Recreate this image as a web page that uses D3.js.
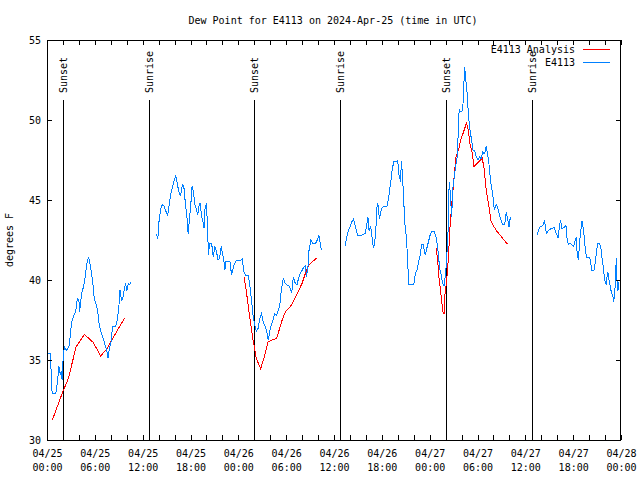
<!DOCTYPE html>
<html><head><meta charset="utf-8">
<script src="https://cdn.jsdelivr.net/npm/d3@7/dist/d3.min.js"></script>
<style>
body{margin:0;background:#fff}
text{font-family:"DejaVu Sans Mono","Liberation Mono",monospace;font-size:10px;fill:#000}
</style>
</head><body>
<svg id="c" width="640" height="480"></svg>
<script>
// ---- data (hours since 2024-04-25 00:00 UTC, dew point in degrees F) ----
const chartTitle = "Dew Point for E4113 on 2024-Apr-25 (time in UTC)";
const yLabel = "degrees F";
const seriesNames = ["E4113 Analysis", "E4113"];
const yTicks = [30, 35, 40, 45, 50, 55];
const xTickHours = [0, 6, 12, 18, 24, 30, 36, 42, 48, 54, 60, 66, 72];
const xTickDates = ["04/25","04/25","04/25","04/25","04/26","04/26","04/26","04/26","04/27","04/27","04/27","04/27","04/28"];
const xTickTimes = ["00:00","06:00","12:00","18:00","00:00","06:00","12:00","18:00","00:00","06:00","12:00","18:00","00:00"];
const sunHours = [1.95, 12.75, 26.0, 36.8, 50.0, 60.8];
const sunLabels = ["Sunset","Sunrise","Sunset","Sunrise","Sunset","Sunrise"];

// observations (null = gap)
const obsHours = [
 0,0.45,0.55,0.65,1.1,1.3,1.5,1.65,1.8,1.9,2.05,2.2,2.4,2.75,2.9,3.1,3.3,3.6,3.8,4.0,4.1,4.2,4.35,4.6,4.8,5.0,5.2,5.4,5.6,5.75,5.95,6.1,6.35,6.55,6.75,7.05,7.3,7.5,7.65,7.85,8.1,8.2,8.6,8.8,9.0,9.15,9.35,9.5,9.7,9.85,10.0,10.2,10.4,10.5,
 12,
 13.7,13.9,14.05,14.25,14.45,14.7,14.95,15.15,15.35,15.55,15.8,16.0,16.15,16.35,16.5,16.7,16.85,17.0,17.2,17.35,17.55,17.7,17.9,18.05,18.2,18.4,18.55,18.7,18.9,19.05,19.2,19.4,19.55,19.7,19.8,20.0,20.15,20.25,20.4,20.65,20.85,21.05,21.25,21.45,21.65,21.85,22.0,22.2,22.3,22.45,22.95,23.15,23.35,23.55,23.75,24.25,24.5,24.7,24.9,25.25,25.45,25.65,25.85,26.05,26.25,26.5,26.7,26.9,27.1,27.35,27.55,27.75,27.95,28.15,28.35,28.55,28.8,29.0,29.2,29.4,29.65,29.85,30.05,30.4,30.7,30.9,31.1,31.35,31.55,31.75,32.0,32.2,32.4,32.55,32.75,32.85,33.1,33.3,33.7,33.9,34.1,34.3,34.4,
 36,
 37.4,37.6,37.8,38.0,38.25,38.45,38.65,38.95,39.5,39.9,40.1,40.25,40.4,40.55,40.7,40.8,40.95,41.1,41.25,41.4,41.5,41.7,41.8,42.0,42.25,42.65,42.85,43.0,43.15,43.3,43.5,44.0,44.15,44.35,44.45,44.6,44.75,44.9,45.1,45.25,45.4,46.0,46.2,46.4,46.6,46.8,47.0,47.2,47.45,47.65,47.85,48.05,48.3,48.6,48.8,49.0,49.15,49.3,49.5,49.6,49.8,49.95,50.1,50.3,50.45,50.6,50.75,50.95,51.1,51.25,51.45,51.6,51.7,51.85,52.15,52.25,52.4,52.5,52.7,52.85,53.0,53.25,53.45,53.65,53.85,54.05,54.25,54.45,54.65,54.85,55.0,55.1,55.25,55.45,55.65,55.9,56.1,56.25,56.4,56.55,56.75,56.95,57.15,57.4,57.6,57.8,57.95,58.05,58.2,
 60,
 61.5,61.65,61.9,62.2,62.4,62.5,62.65,62.9,63.2,63.4,63.6,63.8,64.0,64.1,64.3,64.4,64.6,64.9,65.1,65.25,65.4,65.55,65.85,66.05,66.25,66.4,66.5,66.65,66.8,66.9,67.1,67.25,67.4,67.55,67.7,68.05,68.2,68.3,68.6,68.8,68.95,69.1,69.3,69.5,69.65,69.8,69.95,70.15,70.25,70.35,70.5,70.65,70.8,71.0,71.1,71.25,71.35,71.45,71.5,71.6,71.75
];
const obsDew = [
 35.4,35.4,33.6,32.9,32.9,33.6,34.6,34.1,34.3,33.75,35.4,35.8,35.6,35.8,36.45,37.4,37.7,38.0,38.85,38.75,38.0,38.55,39.2,39.6,40.2,41.05,41.45,41.0,40.4,39.8,38.75,38.6,38.1,37.2,36.8,36.35,35.9,35.6,35.1,35.8,36.25,37.1,37.1,37.5,38.2,39.4,38.75,38.85,39.4,39.8,39.3,39.8,39.7,39.9,
 null,
 42.9,42.55,43.65,44.4,44.7,44.6,44.25,44.05,44.8,45.4,45.9,46.3,46.5,46.0,45.6,45.3,45.5,46.0,45.7,44.8,43.95,42.9,43.95,44.8,45.9,45.4,44.7,44.5,44.05,44.6,44.8,43.95,43.65,43.25,44.4,44.8,43.1,41.55,42.3,42.3,41.45,42.1,41.8,41.25,41.35,42.1,41.7,41.15,40.6,41.15,41.15,40.3,40.75,41.05,41.2,41.2,41.3,40.5,40.3,40.3,39.6,38.75,37.8,37.2,36.8,37.0,37.6,37.9,37.4,37.1,36.8,36.25,36.8,37.2,37.5,37.9,37.8,38.1,38.4,39.4,40.1,39.8,39.7,39.6,39.2,40.2,39.85,39.7,40.1,40.4,40.6,40.8,40.9,40.2,40.9,41.8,42.5,42.3,42.3,42.5,42.8,42.2,41.9,
 null,
 42.1,42.7,43.1,43.3,43.65,43.8,43.4,42.8,42.8,42.9,43.4,43.95,43.1,43.3,43.1,42.5,42.0,42.3,43.2,44.6,44.8,43.8,44.1,44.5,44.6,44.6,45.1,45.7,46.25,46.9,47.4,47.45,46.55,46.15,47.45,46.5,44.9,43.45,42.6,40.95,39.7,39.7,40.4,40.6,41.1,41.55,42.2,42.2,41.55,42.0,42.4,42.8,43.05,43.0,42.7,42.1,41.25,40.6,40.2,39.8,39.6,40.2,41.0,43.0,46.15,45.4,43.95,46.0,46.45,47.1,47.7,49.4,50.7,50.5,50.6,51.9,53.3,52.7,51.7,50.4,49.6,48.75,48.1,48.1,47.7,47.5,47.7,47.6,48.0,47.9,48.1,48.4,47.9,47.2,46.15,45.4,44.4,44.6,44.7,44.5,44.05,43.75,43.45,43.45,44.25,43.75,43.3,43.75,43.9,
 null,
 42.8,43.15,43.35,43.4,43.75,43.4,42.9,43.1,43.2,43.2,43.3,43.0,42.8,42.6,43.4,43.75,43.2,43.3,43.4,42.5,42.2,42.3,42.2,42.1,42.5,42.7,41.65,41.25,42.3,42.8,43.7,43.3,42.6,41.75,41.4,41.4,41.15,40.6,40.6,41.15,41.9,42.3,42.3,41.9,41.25,40.75,40.0,39.7,40.2,40.5,40.0,39.6,39.2,38.95,38.65,39.5,40.75,41.4,40.0,39.3,39.9
];

// analysis (null = gap)
const anaHours = [
 0.67,1.97,2.68,3.64,4.68,5.8,6.73,7.5,9.7,
 12,
 24.7,25.0,25.45,25.85,26.25,26.8,27.2,27.75,28.8,29.5,29.9,30.7,31.3,32.0,32.4,32.85,33.3,33.9,
 36,
 48.8,49.0,49.15,49.3,49.5,49.65,49.8,49.9,50.05,50.2,50.35,50.55,50.85,51.1,51.3,51.6,51.9,52.35,52.6,52.85,53.05,53.35,53.55,54.6,54.85,55.05,55.3,55.5,55.7,56.35,57.0,57.75
];
const anaDew = [
 31.25,33.0,33.85,35.8,36.6,36.1,35.25,35.7,37.6,
 null,
 40.2,39.3,37.6,36.25,35.1,34.45,35.1,36.15,36.35,37.5,38.0,38.45,39.05,39.8,40.4,40.95,41.15,41.4,
 null,
 42.0,41.25,40.2,39.6,38.75,38.0,37.9,39.0,39.6,40.4,41.4,43.3,45.2,46.65,47.7,48.1,48.75,49.4,49.8,49.4,48.5,47.9,47.1,47.6,46.9,45.8,45.0,44.4,43.65,43.1,42.7,42.25
];

// ---- drawing ----
const L = 47, R = 621, T = 40, B = 440;
const svg = d3.select("#c");
const x = d3.scaleLinear().domain([0, 72]).range([L, R]);
const y = d3.scaleLinear().domain([30, 55]).range([B, T]);

svg.append("text").attr("x", 333).attr("y", 24).attr("text-anchor", "middle").text(chartTitle);

// sunrise / sunset markers
const sun = svg.append("g");
sunHours.forEach((h, i) => {
  const px = Math.round(x(h)) + 0.5;
  sun.append("line").attr("x1", px).attr("x2", px).attr("y1", 100).attr("y2", B)
    .attr("stroke", "#000").attr("stroke-width", 1).attr("shape-rendering", "crispEdges");
  sun.append("text").attr("transform", `translate(${px + 3.5},93) rotate(-90)`)
    .attr("text-anchor", "start").text(sunLabels[i]);
});

const line = d3.line()
  .defined((d) => d[1] !== null)
  .x((d) => x(d[0]))
  .y((d) => y(d[1]));

const obs = obsHours.map((h, i) => [h, obsDew[i]]);
const ana = anaHours.map((h, i) => [h, anaDew[i]]);

svg.append("path").datum(ana).attr("d", line)
  .attr("fill", "none").attr("stroke", "#ff0000").attr("stroke-width", 1)
  .attr("shape-rendering", "crispEdges");
svg.append("path").datum(obs).attr("d", line)
  .attr("fill", "none").attr("stroke", "#0080ff").attr("stroke-width", 1)
  .attr("shape-rendering", "crispEdges");

// frame
svg.append("rect").attr("x", L + 0.5).attr("y", T + 0.5).attr("width", R - L - 1).attr("height", B - T)
  .attr("fill", "none").attr("stroke", "#000").attr("stroke-width", 1).attr("shape-rendering", "crispEdges");

// axes with inward ticks
const minor = d3.range(0, 73, 2);
const gb = svg.append("g").attr("transform", `translate(0,${B})`)
  .call(d3.axisBottom(x).tickValues(minor).tickSizeInner(-5).tickSizeOuter(0).tickFormat(""));
const gt = svg.append("g").attr("transform", `translate(0,${T})`)
  .call(d3.axisTop(x).tickValues(minor).tickSizeInner(-5).tickSizeOuter(0).tickFormat(""));
const gl = svg.append("g").attr("transform", `translate(${L},0)`)
  .call(d3.axisLeft(y).tickValues(yTicks).tickSizeInner(-5).tickSizeOuter(0).tickPadding(12)
    .tickFormat(d3.format("d")));
const gr = svg.append("g").attr("transform", `translate(${R},0)`)
  .call(d3.axisRight(y).tickValues(yTicks).tickSizeInner(-5).tickSizeOuter(0).tickFormat(""));
[gb, gt, gl, gr].forEach(g => {
  g.select(".domain").remove();
  g.selectAll("line").attr("stroke", "#000").attr("shape-rendering", "crispEdges");
});
gl.selectAll("text").attr("font-family", null).attr("font-size", null).attr("x", -6);

// x labels (two lines)
const gx = svg.append("g").attr("transform", `translate(0,${B})`)
  .call(d3.axisBottom(x).tickValues(xTickHours).tickSize(0).tickFormat(""));
gx.select(".domain").remove();
gx.selectAll(".tick").each(function (d, i) {
  const t = d3.select(this).append("text").attr("fill", "#000").attr("text-anchor", "middle")
    .attr("font-family", null).attr("font-size", null);
  t.append("tspan").attr("x", 0).attr("y", 17).text(xTickDates[i]);
  t.append("tspan").attr("x", 0).attr("y", 31).text(xTickTimes[i]);
});

// y label
svg.append("text").attr("transform", "translate(13,240) rotate(-90)")
  .attr("text-anchor", "middle").text(yLabel);

// legend
const leg = svg.append("g");
const legColors = ["#ff0000", "#0080ff"];
seriesNames.forEach((n, i) => {
  const yy = 53 + i * 13;
  leg.append("text").attr("x", 575).attr("y", yy).attr("text-anchor", "end").text(n);
  leg.append("line").attr("x1", 583).attr("x2", 610).attr("y1", yy - 3.5).attr("y2", yy - 3.5)
    .attr("stroke", legColors[i]).attr("stroke-width", 1).attr("shape-rendering", "crispEdges");
});
</script>
</body></html>
